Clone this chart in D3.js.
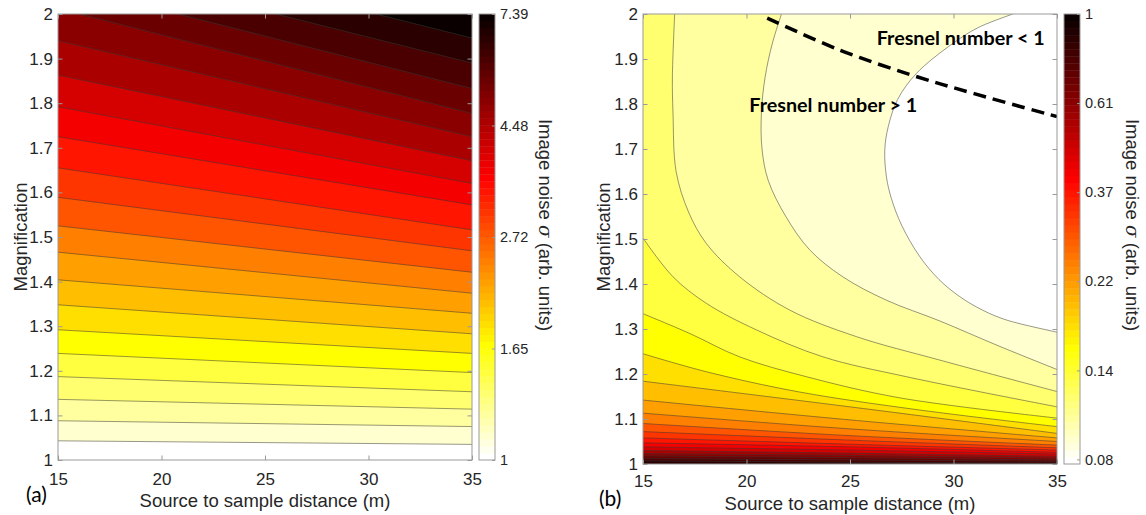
<!DOCTYPE html>
<html>
<head>
<meta charset="utf-8">
<script src="https://cdn.jsdelivr.net/npm/d3@7"></script>
<style>
  body { margin: 0; background: #fff; }
  svg { display: block; }
</style>
</head>
<body>
<script>
// ---- data ----
const xTicks = [15, 20, 25, 30, 35];
const yTicks = [1, 1.1, 1.2, 1.3, 1.4, 1.5, 1.6, 1.7, 1.8, 1.9, 2];

// (a) contour levels, ln(sigma); band k is filled with the colour of level k
const leftLevels = [0, 0.1, 0.2, 0.3, 0.4, 0.5, 0.6, 0.7, 0.8, 0.9, 1.0,
                    1.1, 1.2, 1.3, 1.4, 1.5, 1.6, 1.7, 1.8, 1.9, 2.0];
// (a) magnification of each contour line at 15 m and 35 m
const leftAt15 = [1.043, 1.088, 1.136, 1.187, 1.239, 1.292, 1.348, 1.404, 1.466, 1.525,
                  1.589, 1.655, 1.725, 1.792, 1.863, 1.940, 2.012, 2.068, 2.122, 2.178];
const leftAt35 = [1.035, 1.075, 1.114, 1.153, 1.196, 1.239, 1.283, 1.329, 1.374, 1.421,
                  1.469, 1.516, 1.572, 1.620, 1.671, 1.725, 1.777, 1.833, 1.890, 1.946];
const leftCbTicks = [1, 1.6487, 2.7183, 4.4817, 7.3891];

// (b) contour levels, ln(sigma)
const rightLevels = [-2.526, -2.400, -2.273, -2.147, -2.021, -1.894, -1.768, -1.642, -1.515, -1.389,
                     -1.263, -1.137, -1.010, -0.884, -0.758, -0.631, -0.505, -0.379, -0.253, -0.126, 0];
// (b) contour lines as [distance, magnification] points
const rightLines = [
  [[32.87, 2.0], [31.2, 1.97], [29.98, 1.935], [28.21, 1.868], [27.3, 1.81], [26.85, 1.75],
   [26.68, 1.698], [26.76, 1.638], [27.0, 1.59], [27.5, 1.53], [28.37, 1.461], [29.3, 1.41],
   [30.3, 1.372], [31.4, 1.342], [32.56, 1.320], [35, 1.293]],
  [[21.69, 2.0], [21.25, 1.935], [20.9, 1.86], [20.72, 1.78], [20.75, 1.70], [21.05, 1.63],
   [21.9, 1.55], [23.05, 1.476], [24.65, 1.416], [26.76, 1.364], [29.33, 1.318], [32.2, 1.262], [35, 1.210]],
  [[16.53, 2.0], [16.42, 1.86], [16.45, 1.78], [16.6, 1.65], [17.2, 1.56], [18.06, 1.49],
   [19.67, 1.416], [22.09, 1.342], [25.31, 1.283], [29.33, 1.231], [35, 1.161]],
  [[15, 1.502], [16.45, 1.416], [18.06, 1.357], [20.48, 1.298], [23.70, 1.238], [27.72, 1.194], [35, 1.127]],
  [[15, 1.334], [17.26, 1.290], [19.67, 1.238], [22.89, 1.194], [27.40, 1.147], [35, 1.102]],
  [[15, 1.245], [18.06, 1.205], [22.56, 1.160], [28.36, 1.120], [35, 1.083]],
  [[15, 1.184], [25, 1.127], [35, 1.068]],
  [[15, 1.142], [25, 1.098], [35, 1.058]],
  [[15, 1.113], [25, 1.078], [35, 1.050]],
  [[15, 1.090], [25, 1.063], [35, 1.042]],
  [[15, 1.072], [25, 1.053], [35, 1.036]],
  [[15, 1.058], [25, 1.044], [35, 1.031]],
  [[15, 1.047], [25, 1.038], [35, 1.026]],
  [[15, 1.038], [25, 1.031], [35, 1.022]],
  [[15, 1.030], [25, 1.024], [35, 1.017]],
  [[15, 1.023], [25, 1.019], [35, 1.013]],
  [[15, 1.018], [25, 1.014], [35, 1.009]],
  [[15, 1.012], [25, 1.009], [35, 1.006]],
  [[15, 1.007], [25, 1.004], [35, 1.002]]
];
const rightCbTicks = [0.0821, 0.1353, 0.2231, 0.3679, 0.6065, 1];

// Fresnel number = 1 boundary
const fresnelX = [21.0, 24.5, 28.0, 31.0, 35];
const fresnelM = [1.991, 1.920, 1.864, 1.823, 1.772];

// ---- helpers ----
const axisGrey = '#999';
const textGrey = '#262626';

// flipped MATLAB hot(64): t = 0 -> white, t = 1 -> black
function hotR(t) {
    const m = 64, n = 24;
    const i = Math.min(m, Math.floor(t * m + 0.02) + 1);
    const h = m + 1 - i;
    const r = h <= n ? h / n : 1;
    const g = h <= n ? 0 : (h <= 2 * n ? (h - n) / n : 1);
    const b = h <= 2 * n ? 0 : (h - 2 * n) / (m - 2 * n);
    return d3.rgb(r * 255, g * 255, b * 255).formatHex();
}

const svg = d3.select('body').append('svg')
    .attr('width', 1146)
    .attr('height', 515)
    .style('font-family', '"Liberation Sans", Arial, Helvetica, sans-serif');

function makePanel(p) {
    const x = d3.scaleLinear().domain([15, 35]).range([p.x0, p.x1]);
    const y = d3.scaleLinear().domain([1, 2]).range([p.y1, p.y0]);
    svg.append('clipPath').attr('id', 'clip-' + p.name)
        .append('rect')
        .attr('x', p.x0).attr('y', p.y0)
        .attr('width', p.x1 - p.x0).attr('height', p.y1 - p.y0);
    const g = svg.append('g');
    const plot = g.append('g').attr('clip-path', `url(#clip-${p.name})`);
    return {x, y, g, plot};
}

function drawBands(P, lines, levels, closeCorners) {
    const {x, y, plot} = P;
    const lo = levels[0], hi = levels[levels.length - 1];
    const bandColor = k => hotR((levels[k] - lo) / (hi - lo));
    const line = d3.line()
        .x(d => x(d[0]))
        .y(d => y(d[1]))
        .curve(d3.curveCatmullRom.alpha(0.5));

    plot.append('rect')
        .attr('x', x.range()[0]).attr('y', y.range()[1])
        .attr('width', x.range()[1] - x.range()[0])
        .attr('height', y.range()[0] - y.range()[1])
        .attr('fill', bandColor(0));

    lines.forEach((pts, i) => {
        const corners = closeCorners(pts);
        const d = line(pts) + corners.map(c => `L${x(c[0])},${y(c[1])}`).join('') + 'Z';
        plot.append('path')
            .attr('d', d)
            .attr('fill', bandColor(i + 1))
            .attr('stroke', bandColor(i + 1))
            .attr('stroke-width', 0.3);
    });

    lines.forEach(pts => {
        plot.append('path')
            .attr('d', line(pts))
            .attr('fill', 'none')
            .attr('stroke', '#3a3a3a')
            .attr('stroke-opacity', 0.75)
            .attr('stroke-width', 0.7);
    });
}

function drawAxes(P, p) {
    const {x, y, g} = P;
    const style = sel => {
        sel.select('.domain').remove();
        sel.selectAll('line').attr('stroke', axisGrey);
        sel.selectAll('text').attr('fill', textGrey).attr('font-size', 17);
    };
    g.append('g').attr('transform', `translate(0,${p.y1})`)
        .call(d3.axisBottom(x).tickValues(xTicks).tickSizeInner(-4.5).tickSizeOuter(0)
            .tickPadding(p.xPad).tickFormat(d3.format('d')))
        .call(style);
    g.append('g').attr('transform', `translate(0,${p.y0})`)
        .call(d3.axisTop(x).tickValues(xTicks).tickSizeInner(-4.5).tickSizeOuter(0).tickFormat(''))
        .call(style);
    g.append('g').attr('transform', `translate(${p.x0},0)`)
        .call(d3.axisLeft(y).tickValues(yTicks).tickSizeInner(-4.5).tickSizeOuter(0)
            .tickPadding(5).tickFormat(d3.format('.1~f')))
        .call(style);
    g.append('g').attr('transform', `translate(${p.x1},0)`)
        .call(d3.axisRight(y).tickValues(yTicks).tickSizeInner(-4.5).tickSizeOuter(0).tickFormat(''))
        .call(style);
    g.append('rect')
        .attr('x', p.x0).attr('y', p.y0)
        .attr('width', p.x1 - p.x0).attr('height', p.y1 - p.y0)
        .attr('fill', 'none').attr('stroke', axisGrey).attr('stroke-width', 1);

    g.append('text')
        .attr('x', (p.x0 + p.x1) / 2).attr('y', p.xLabelY)
        .attr('text-anchor', 'middle').attr('font-size', 18.5).attr('fill', textGrey)
        .text('Source to sample distance (m)');
    g.append('text')
        .attr('transform', `translate(${p.yLabelX},237) rotate(-90)`)
        .attr('text-anchor', 'middle').attr('font-size', 18.5).attr('fill', textGrey)
        .text('Magnification');
    g.append('text')
        .attr('x', p.tagX).attr('y', p.tagY)
        .attr('font-family', 'Lato, "Open Sans", sans-serif')
        .attr('font-size', 21).attr('fill', '#000')
        .text(p.tag);
}

function drawColorbar(cb, ticks, domain) {
    const s = d3.scaleLog().domain(domain).range([cb.y1, cb.y0]);
    const t = d3.scaleLinear().domain([0, 1]).range([cb.y1, cb.y0]);
    const g = svg.append('g');
    g.selectAll('rect.step')
        .data(d3.range(64))
        .enter().append('rect')
        .attr('class', 'step')
        .attr('x', cb.x0)
        .attr('y', j => t((j + 1) / 64))
        .attr('width', cb.x1 - cb.x0)
        .attr('height', j => t(j / 64) - t((j + 1) / 64) + 0.4)
        .attr('fill', j => hotR((j + 0.5) / 64));
    g.append('rect')
        .attr('x', cb.x0).attr('y', cb.y0)
        .attr('width', cb.x1 - cb.x0).attr('height', cb.y1 - cb.y0)
        .attr('fill', 'none').attr('stroke', axisGrey);
    g.append('g').attr('transform', `translate(${cb.x1},0)`)
        .call(d3.axisRight(s).tickValues(ticks).tickSizeInner(-3).tickSizeOuter(0).tickPadding(5)
            .tickFormat(d => d === 1 ? '1' : d3.format('.2f')(d)))
        .call(sel => {
            sel.select('.domain').remove();
            sel.selectAll('line').attr('stroke', axisGrey);
            sel.selectAll('text').attr('fill', textGrey).attr('font-size', 14.5);
        });
    const lab = g.append('text')
        .attr('transform', `translate(${cb.labelX},225) rotate(90)`)
        .attr('text-anchor', 'middle').attr('font-size', 18.5).attr('fill', textGrey);
    lab.append('tspan').text('Image noise ');
    lab.append('tspan').attr('font-style', 'italic').attr('font-family', '"DejaVu Serif", serif').text('σ');
    lab.append('tspan').text(' (arb. units)');
}

// ---- panel (a) ----
const pa = {name: 'a', x0: 58, x1: 472, y0: 14, y1: 460, xPad: 13, xLabelY: 506.5,
            yLabelX: 26.5, tag: '(a)', tagX: 26, tagY: 502};
const A = makePanel(pa);
const leftLines = leftAt15.map((m, i) => [[15, m], [35, leftAt35[i]]]);
drawBands(A, leftLines, leftLevels, () => [[35, 2.4], [15, 2.4]]);
drawAxes(A, pa);
drawColorbar({x0: 479, x1: 495, y0: 14, y1: 460, labelX: 538.5}, leftCbTicks, [1, 7.3891]);

// ---- panel (b) ----
const pb = {name: 'b', x0: 643, x1: 1057, y0: 14, y1: 464, xPad: 11, xLabelY: 510,
            yLabelX: 610, tag: '(b)', tagX: 599, tagY: 506};
const B = makePanel(pb);
drawBands(B, rightLines, rightLevels,
    pts => pts[0][1] >= 2 ? [[35, 1], [15, 1], [15, 2]] : [[35, 1], [15, 1]]);

const fresnel = d3.line()
    .x(d => B.x(d[0]))
    .y(d => B.y(d[1]))
    .curve(d3.curveCatmullRom.alpha(0.5));
B.plot.append('path')
    .attr('d', fresnel(fresnelX.map((v, i) => [v, fresnelM[i]])))
    .attr('fill', 'none')
    .attr('stroke', '#000')
    .attr('stroke-width', 3.5)
    .attr('stroke-dasharray', '13,7');

drawAxes(B, pb);
drawColorbar({x0: 1064, x1: 1080, y0: 14, y1: 464, labelX: 1126}, rightCbTicks, [0.0800, 1]);

[['Fresnel number < 1', 876.7, 45], ['Fresnel number > 1', 749.3, 111.7]].forEach(([txt, tx, ty]) => {
    svg.append('text')
        .attr('x', tx).attr('y', ty)
        .attr('font-family', 'Lato, "Open Sans", sans-serif')
        .attr('font-weight', 'bold')
        .attr('font-size', 18.5)
        .attr('textLength', 168)
        .attr('lengthAdjust', 'spacingAndGlyphs')
        .attr('fill', '#000')
        .text(txt);
});
</script>
</body>
</html>
